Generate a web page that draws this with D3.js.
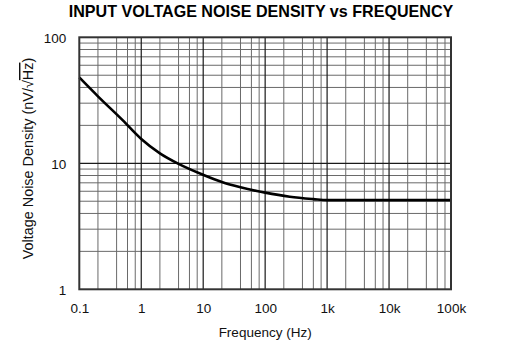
<!DOCTYPE html>
<html>
<head>
<meta charset="utf-8">
<script src="https://cdn.jsdelivr.net/npm/d3@7/dist/d3.min.js"></script>
<style>
  html, body { margin: 0; padding: 0; background: #fff; }
  svg { display: block; font-family: "Liberation Sans", Arial, Helvetica, sans-serif; }
</style>
</head>
<body>
<svg id="chart" width="516" height="348"></svg>
<script>
// Input voltage noise density curve (frequency in Hz, noise in nV/√Hz)
const frequency = [0.1, 0.2, 0.5, 1, 2, 4, 10, 20, 40, 100, 250, 600, 1000, 100000];
const noise     = [48, 34, 22, 15.6, 12.0, 9.9, 8.1, 7.1, 6.45, 5.85, 5.43, 5.2, 5.1, 5.1];

const xTickValues = [0.1, 1, 10, 100, 1000, 10000, 100000];
const xTickLabels = ["0.1", "1", "10", "100", "1k", "10k", "100k"];
const yTickValues = [1, 10, 100];
const yTickLabels = ["1", "10", "100"];

const title = "INPUT VOLTAGE NOISE DENSITY vs FREQUENCY";
const xTitle = "Frequency (Hz)";

const svg = d3.select("#chart");
const plotLeft = 79.3, plotRight = 451, plotTop = 37.3, plotBottom = 289.3;

const x = d3.scaleLog().domain([0.1, 100000]).range([plotLeft, plotRight]);
const y = d3.scaleLog().domain([1, 100]).range([plotBottom, plotTop]);

// Grid: minor lines first, then decade lines
const xMinor = [];
for (let d = 0.1; d < 100000; d *= 10) [2, 4, 6, 8].forEach(m => xMinor.push(d * m));
const yMinor = [];
for (let d = 1; d < 100; d *= 10) for (let m = 2; m <= 9; m++) yMinor.push(d * m);
const xMajor = xTickValues.slice(1, -1);
const yMajor = [10];

const grid = svg.append("g");
grid.selectAll(".xm").data(xMinor).join("line")
  .attr("x1", d => x(d)).attr("x2", d => x(d))
  .attr("y1", plotTop).attr("y2", plotBottom)
  .attr("stroke", "#6a6a6a").attr("stroke-width", 1);
grid.selectAll(".ym").data(yMinor).join("line")
  .attr("y1", d => y(d)).attr("y2", d => y(d))
  .attr("x1", plotLeft).attr("x2", plotRight)
  .attr("stroke", "#6a6a6a").attr("stroke-width", 1);
grid.selectAll(".xM").data(xMajor).join("line")
  .attr("x1", d => x(d)).attr("x2", d => x(d))
  .attr("y1", plotTop).attr("y2", plotBottom)
  .attr("stroke", "#1a1a1a").attr("stroke-width", 1.2);
grid.selectAll(".yM").data(yMajor).join("line")
  .attr("y1", d => y(d)).attr("y2", d => y(d))
  .attr("x1", plotLeft).attr("x2", plotRight)
  .attr("stroke", "#1a1a1a").attr("stroke-width", 1.2);

// Noise curve
const pts = frequency.map((f, i) => [f, noise[i]]);
const line = d3.line().x(d => x(d[0])).y(d => y(d[1])).curve(d3.curveMonotoneX);
svg.append("path").datum(pts)
  .attr("d", line)
  .attr("fill", "none").attr("stroke", "#000").attr("stroke-width", 2.6)
  .attr("stroke-linejoin", "round");

// Plot frame
svg.append("rect")
  .attr("x", plotLeft).attr("y", plotTop)
  .attr("width", plotRight - plotLeft).attr("height", plotBottom - plotTop)
  .attr("fill", "none").attr("stroke", "#333").attr("stroke-width", 2);

// Axes (labels only; the grid draws the ticks)
const xAxis = d3.axisBottom(x).tickValues(xTickValues)
  .tickFormat((d, i) => xTickLabels[i]).tickSize(0).tickPadding(0);
const gx = svg.append("g").attr("transform", `translate(0,${plotBottom})`).call(xAxis);
gx.select(".domain").remove();
gx.selectAll("text").attr("dy", null).attr("y", 23.5)
  .attr("font-size", 13.5).attr("fill", "#111").attr("font-family", "Liberation Sans, Arial, sans-serif");

const yAxis = d3.axisLeft(y).tickValues(yTickValues)
  .tickFormat((d, i) => yTickLabels[i]).tickSize(0).tickPadding(0);
const gy = svg.append("g").attr("transform", `translate(${plotLeft},0)`).call(yAxis);
gy.select(".domain").remove();
gy.selectAll("text").attr("x", -13).attr("dy", "0.36em")
  .attr("font-size", 13.5).attr("fill", "#111").attr("font-family", "Liberation Sans, Arial, sans-serif");

// Titles
svg.append("text")
  .attr("x", 261).attr("y", 17.3).attr("text-anchor", "middle")
  .attr("font-size", 16.1).attr("font-weight", "bold").attr("fill", "#000")
  .text(title);

svg.append("text")
  .attr("x", (plotLeft + plotRight) / 2).attr("y", 336.5).attr("text-anchor", "middle")
  .attr("font-size", 13.5).attr("fill", "#111")
  .text(xTitle);

const yt = svg.append("text")
  .attr("transform", `translate(33,158.5) rotate(-90)`)
  .attr("text-anchor", "middle")
  .attr("font-size", 14.4).attr("fill", "#111");
yt.append("tspan").text("Voltage Noise Density (nV/√");
yt.append("tspan").attr("text-decoration", "overline").text("Hz");
yt.append("tspan").text(")");
</script>
</body>
</html>
